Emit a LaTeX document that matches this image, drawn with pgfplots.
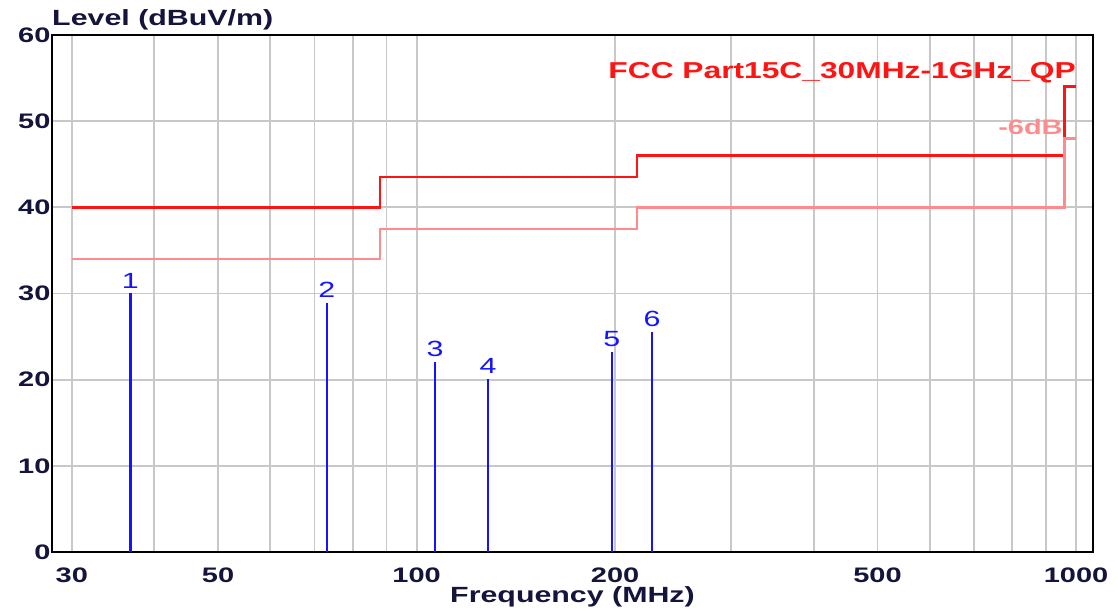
\documentclass[border=0pt]{standalone}
\usepackage{fontspec}
\setmainfont{Liberation Sans}
\newfontfamily\widefont[FakeStretch=1.38]{Liberation Sans}
\usepackage{pgfplots}
\pgfplotsset{compat=1.18}
\definecolor{limred}{RGB}{255,20,20}
\definecolor{limpink}{RGB}{255,140,140}
\definecolor{mkblue}{RGB}{20,20,255}
\definecolor{txtdark}{RGB}{20,20,60}
\definecolor{gridgray}{RGB}{200,200,200}

\pgfplotstableread{
f      lev   lab
36.8   30.0  1
73.1   28.9  2
106.7  22.1  3
128.3  20.1  4
197.8  23.2  5
227.5  25.5  6
}\peaks

\begin{document}
\begin{tikzpicture}
\begin{axis}[
    scale only axis,
    width=1041pt, height=517pt,
    xmode=log,
    xmin=28, xmax=1061,
    ymin=0, ymax=60,
    axis line style={black, line width=2pt},
    grid=major,
    major grid style={color=gridgray, line width=1.8pt},
    tick style={draw=none},
    xtick={30,40,50,60,70,80,90,100,200,300,400,500,600,700,800,900,1000},
    xticklabels={30,,50,,,,,100,200,,,500,,,,,1000},
    ytick={0,10,20,30,40,50,60},
    yticklabels={0,10,20,30,40,50,60},
    ticklabel style={font=\widefont\fontsize{21}{24}\selectfont\bfseries, text=txtdark},
    xticklabel style={yshift=-12pt},
    yticklabel style={xshift=2pt},
    xlabel={Frequency (MHz)},
    xlabel style={font=\widefont\fontsize{22}{24}\selectfont\bfseries, text=txtdark, yshift=-1pt, inner sep=0pt},
    clip=false,
]
% limit lines
\addplot[limred, line width=2.5pt] coordinates {
 (30,40) (88,40) (88,43.5) (216,43.5) (216,46) (960,46) (960,54) (1000,54)};
\addplot[limpink, line width=2.5pt] coordinates {
 (30,34) (88,34) (88,37.5) (216,37.5) (216,40) (960,40) (960,48) (1000,48)};
% peaks
\addplot[ycomb, mkblue, line width=2.6pt, no marks,
    nodes near coords, point meta=explicit symbolic,
    nodes near coords style={font=\widefont\fontsize{22}{24}\selectfont, text=mkblue, anchor=south, inner sep=1pt, yshift=3pt}]
    table[x=f, y=lev, meta=lab] {\peaks};
\node[anchor=east, text=limred, font=\widefont\fontsize{23}{24}\selectfont\bfseries, inner sep=0pt] at (axis cs:1000,55.6) {FCC Part15C\_30MHz-1GHz\_QP};
\node[anchor=east, text=limpink, font=\widefont\fontsize{21}{24}\selectfont\bfseries, inner sep=0pt] at (axis cs:955,49.3) {-6dB};
\node[anchor=base west, text=txtdark, font=\widefont\fontsize{22}{24}\selectfont\bfseries, inner sep=0pt] at ([yshift=9pt]rel axis cs:0,1) {Level (dBuV/m)};
\end{axis}
\path[use as bounding box] ([xshift=-52pt,yshift=-60pt]current axis.south west) rectangle ([xshift=25pt,yshift=35pt]current axis.north east);
\end{tikzpicture}
\end{document}
